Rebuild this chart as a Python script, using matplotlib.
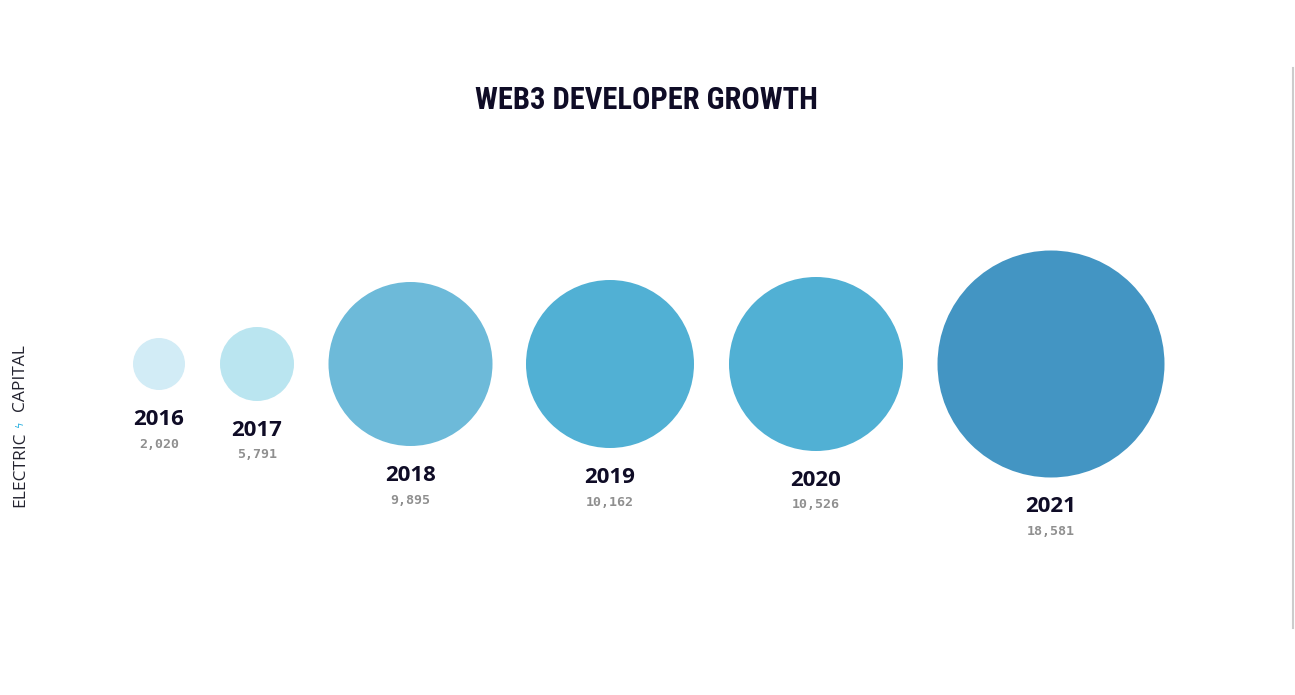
import matplotlib
matplotlib.use("Agg")
import matplotlib.pyplot as plt
from matplotlib.patches import Circle
from matplotlib.lines import Line2D

# ---- data ----
years = ["2016", "2017", "2018", "2019", "2020", "2021"]
developers = [2020, 5791, 9895, 10162, 10526, 18581]
title = "WEB3 DEVELOPER GROWTH"

# ---- layout / style (pixel units) ----
W, H = 1295, 695
center_x = [159, 257, 410.5, 610, 816, 1051]
center_y = 364
radii = [26, 37, 82, 84, 87, 113.5]
colors = ["#d2ecf6", "#bae5f0", "#6dbad9", "#51b0d4", "#51b0d4", "#4395c3"]

fig = plt.figure(figsize=(W / 100, H / 100), dpi=100)
ax = fig.add_axes([0, 0, 1, 1])
ax.set_xlim(0, W)
ax.set_ylim(H, 0)
ax.axis("off")

for x, r, c, yr, v in zip(center_x, radii, colors, years, developers):
    ax.add_patch(Circle((x, center_y), r, facecolor=c, edgecolor="none"))
    bottom = center_y + r
    ax.text(x, bottom + 29.5, yr, ha="center", va="center", fontsize=16,
            fontweight="bold", color="#0f0c26", family=["Open Sans", "Lato"])
    ax.text(x, bottom + 54, f"{v:,}", ha="center", va="center", fontsize=9.5,
            fontweight="bold", color="#8f8f8f", family="DejaVu Sans Mono")

ax.text(646, 100, title, ha="center", va="center", fontsize=22,
        fontweight="bold", color="#0f0c26",
        family=["Roboto Condensed", "Roboto"])

# brand text, vertical on left
brand_kw = dict(rotation=90, ha="center", va="center", fontsize=12.5,
                color="#23232f", family="Open Sans")
ax.text(20, 469, "ELECTRIC", **brand_kw)
ax.text(20, 378, "CAPITAL", **brand_kw)
ax.text(20, 425, "\u03df", rotation=90, ha="center", va="center",
        fontsize=7, color="#2ab0e0", family="DejaVu Sans")

# right-edge gray rule
ax.add_line(Line2D([1293, 1293], [68, 628], color="#cccccc", lw=1.5))

fig.savefig("out.png", dpi=100, facecolor="white")
